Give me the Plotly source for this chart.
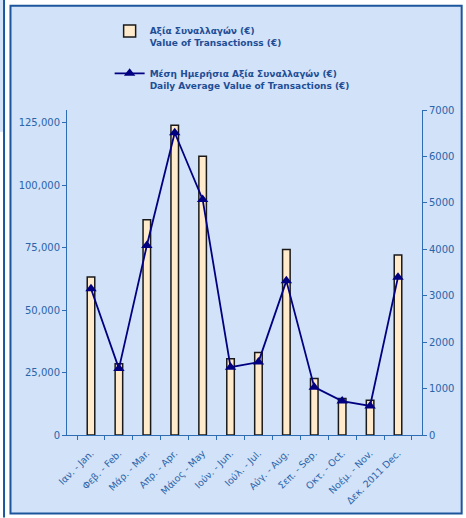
import plotly.graph_objects as go

months = ['Ιαν. - Jan.', 'Φεβ. - Feb.', 'Μάρ. - Mar.', 'Απρ. - Apr.', 'Μάιος - May',
          'Ιούν. - Jun.', 'Ιούλ. - Jul.', 'Αύγ. - Aug.', 'Σεπ. - Sep.', 'Οκτ. - Oct.',
          'Νοέμ. - Nov.', 'Δεκ. 2011 Dec.']
value_tx = [63200, 28500, 86100, 123900, 111500, 30500, 33000, 74200, 22600, 14600, 13900, 72000]
daily_avg = [3150, 1430, 4080, 6510, 5075, 1460, 1570, 3320, 1030, 730, 625, 3400]

# plot area in pixels
L, R, T, B = 67, 425, 110, 437
W, H = R - L, B - T


def px(x):
    return (x - L) / W


def py(y):
    return (B - y) / H


blue_txt = '#1F4E96'
tick_blue = '#2A64AA'
axis_blue = '#2E6DB4'
frame_blue = '#1D559C'
bg_blue = '#D2E2F8'

fig = go.Figure(
    layout={
        'width': 466,
        'height': 518,
        'margin': {'l': L, 'r': 466 - R, 't': T, 'b': 518 - B, 'pad': 0},
        'paper_bgcolor': 'white',
        'plot_bgcolor': 'white',
        'font': {'family': 'DejaVu Sans', 'size': 9, 'color': tick_blue},
        'showlegend': True,
        'bargap': 0.73,
    }
)

fig.add_trace(go.Bar(
    x=months, y=value_tx,
    name='Αξία Συναλλαγών (€)<br>Value of Transactionss (€)',
    marker={'color': '#FFEBCC', 'line': {'color': '#1a1a1a', 'width': 1.5}},
    legendgroup='a',
    yaxis='y'
))

fig.add_trace(go.Scatter(
    x=months, y=daily_avg,
    name='Μέση Ημερήσια Αξία Συναλλαγών (€)<br>Daily Average Value of Transactions (€)',
    mode='lines+markers',
    line={'color': '#000080', 'width': 1.8},
    marker={'symbol': 'triangle-up', 'size': 10, 'color': '#000080'},
    legendgroup='b',
    yaxis='y2'
))

fig.update_layout(
    xaxis={
        'type': 'category',
        'tickangle': -45,
        'tickson': 'boundaries',
        'ticks': 'outside',
        'ticklen': 4,
        'tickcolor': axis_blue,
        'ticklabelstandoff': 8,
        'showline': True,
        'linecolor': axis_blue,
        'linewidth': 1,
        'showgrid': False,
        'tickfont': {'size': 9.5, 'color': tick_blue},
    },
    yaxis={
        'range': [0, 130000],
        'tick0': 0,
        'dtick': 25000,
        'tickformat': ',d',
        'ticks': 'outside',
        'ticklen': 4,
        'tickcolor': axis_blue,
        'showline': True,
        'linecolor': axis_blue,
        'showgrid': False,
        'zeroline': False,
        'tickfont': {'size': 10, 'color': tick_blue},
    },
    yaxis2={
        'range': [0, 7000],
        'dtick': 1000,
        'overlaying': 'y',
        'side': 'right',
        'ticks': 'outside',
        'ticklen': 4,
        'tickcolor': axis_blue,
        'showline': True,
        'linecolor': axis_blue,
        'showgrid': False,
        'zeroline': False,
        'tickfont': {'size': 10, 'color': tick_blue},
    },
    legend={
        'x': px(110),
        'y': py(18),
        'xanchor': 'left',
        'yanchor': 'top',
        'bgcolor': 'rgba(0,0,0,0)',
        'valign': 'top',
        'tracegroupgap': 16,
        'font': {'family': 'DejaVu Sans', 'size': 9, 'color': blue_txt, 'weight': 'bold'},
    },
    shapes=[
        dict(type='rect', xref='paper', yref='paper', layer='below',
             x0=px(10), x1=px(465), y0=py(516), y1=py(5),
             fillcolor=bg_blue, line={'color': frame_blue, 'width': 2}),
        dict(type='rect', xref='paper', yref='paper', layer='below',
             x0=px(-2), x1=px(3), y0=py(132), y1=py(-2),
             fillcolor=bg_blue, line={'width': 0}),
        dict(type='line', xref='paper', yref='paper', layer='below',
             x0=px(3.5), x1=px(3.5), y0=py(520), y1=py(-2),
             line={'color': frame_blue, 'width': 2}),
    ]
)

fig.write_html("out.html", config={'displayModeBar': False},
               post_script="document.body.style.margin='0px';")
